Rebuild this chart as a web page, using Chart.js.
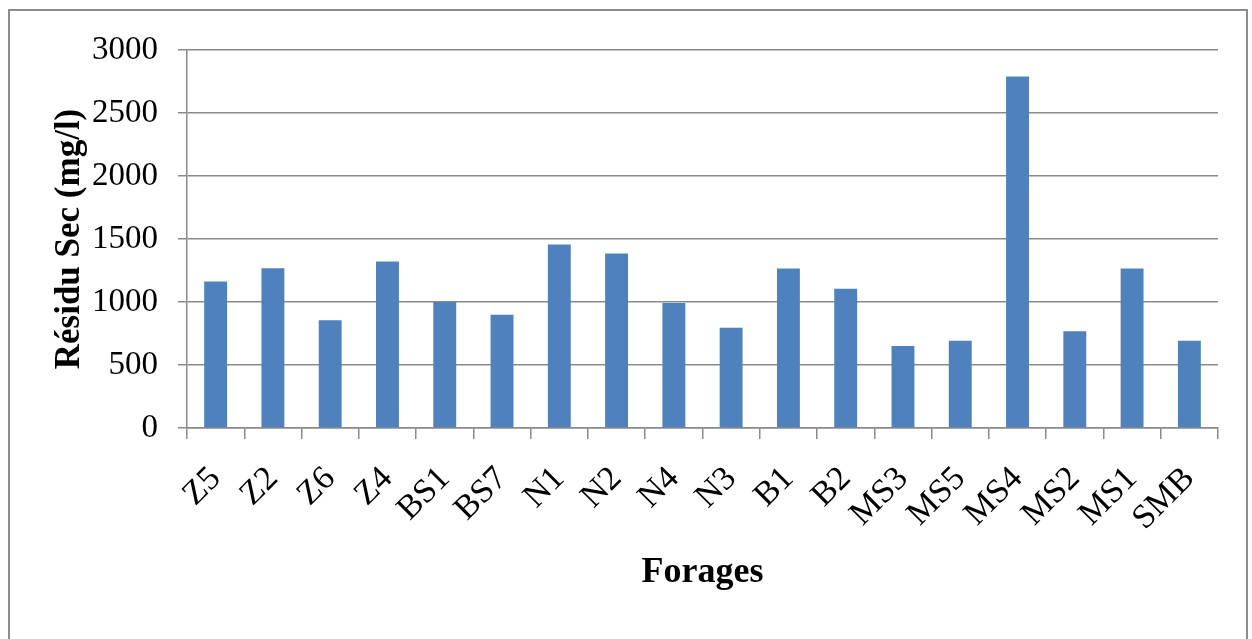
<!DOCTYPE html>
<html lang="fr">
<head>
<meta charset="UTF-8">
<title>Résidu Sec</title>
<script src="https://cdn.jsdelivr.net/npm/chart.js"></script>
<style>
    body { margin: 0; background: #fff; }
    #wrap { position: relative; width: 1252px; height: 639px; }
    #frame {
        position: absolute; left: 8px; top: 9px; width: 1240px; height: 640px;
        border: 2px solid #8c8c8c; box-sizing: border-box;
    }
    canvas { position: absolute; left: 0; top: 0; }
</style>
</head>
<body>
<div id="wrap">
    <div id="frame"></div>
    <canvas id="residuChart"></canvas>
</div>
<script>
    // forages et résidu sec (mg/l)
    const forages = ['Z5', 'Z2', 'Z6', 'Z4', 'BS1', 'BS7', 'N1', 'N2', 'N4', 'N3',
                     'B1', 'B2', 'MS3', 'MS5', 'MS4', 'MS2', 'MS1', 'SMB'];
    const residuSec = [1162, 1268, 855, 1321, 1000, 899, 1456, 1384, 992, 796,
                       1266, 1106, 650, 692, 2790, 767, 1266, 692];
    const yTicks = [0, 500, 1000, 1500, 2000, 2500, 3000];

    const serif = 'Liberation Serif, Times New Roman, serif';
    const gris = '#8a8a8a';

    const ctx = document.getElementById('residuChart').getContext('2d');
    new Chart(ctx, {
        type: 'bar',
        data: {
            labels: forages,
            datasets: [{
                label: 'Résidu Sec (mg/l)',
                data: residuSec,
                backgroundColor: '#4f81bd',
                borderWidth: 0,
                barPercentage: 0.4,
                categoryPercentage: 1
            }]
        },
        options: {
            responsive: true,
            maintainAspectRatio: false,
            animation: false,
            layout: { padding: { left: 0, right: 34, top: 50, bottom: 0 } },
            plugins: { legend: { display: false }, tooltip: { enabled: false } },
            scales: {
                x: {
                    afterFit: (s) => { s.height = 211; },
                    border: { display: true, color: gris, width: 1.5 },
                    grid: { offset: true, drawOnChartArea: false, drawTicks: true, tickLength: 11, color: gris, lineWidth: 1.5 },
                    ticks: {
                        color: '#000', font: { family: serif, size: 34 },
                        maxRotation: 45, minRotation: 45, padding: 20, autoSkip: false
                    },
                    title: {
                        display: true, text: 'Forages', color: '#000',
                        font: { family: serif, size: 36, weight: 'bold' },
                        padding: { top: 0, bottom: 45 }
                    }
                },
                y: {
                    min: 0, max: 3000,
                    afterFit: (s) => { s.width = 187; },
                    afterBuildTicks: (s) => { s.ticks = yTicks.map(v => ({ value: v })); },
                    border: { display: true, color: gris, width: 1.5 },
                    grid: { color: gris, lineWidth: 1.5, tickLength: 9 },
                    ticks: {
                        color: '#000', font: { family: serif, size: 33 }, padding: 20,
                        callback: (v) => String(v)
                    },
                    title: {
                        display: true, text: 'Résidu Sec (mg/l)', color: '#000',
                        font: { family: serif, size: 35, weight: 'bold' },
                        padding: { top: 49, bottom: 0 }
                    }
                }
            }
        }
    });
</script>
</body>
</html>
